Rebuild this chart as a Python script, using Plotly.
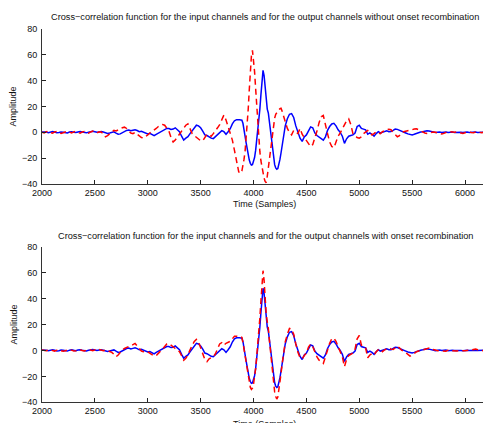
import plotly.graph_objects as go

# Sample index grid (Time in samples): coarse outside, finer around the main lobe
T = list(range(2000, 3860, 20)) + list(range(3860, 4300, 10)) + list(range(4300, 6181, 20))

# Input-channel cross-correlation (blue, identical in both panels)
blue = [
    0.3, 0.5, 0.2, -0.3, 0.1, 0.6, 0.2, -0.4, -0.2, 0.3,
    0.1, -0.3, -0.5, 0.2, 0.5, 0.1, -0.2, 0.3, 0.6, 0.2,
    -0.2, -0.4, 0.1, 0.5, 0.8, 0.4, 0.0, 0.3, 0.6, 0.2,
    -0.3, -0.8, -0.5, 0.2, 0.4, -0.6, -1.5, -1.2, -0.2, 0.8,
    1.5, 1.8, 1.2, 1.6, 2.0, 1.4, 0.5, 0.8, 0.2, -0.6,
    -1.2, -0.8, -2.0, -2.6, -1.5, -0.5, 0.4, 1.0, 2.0, 3.0,
    3.0, 2.2, 2.5, 3.5, 2.0, 0.5, -3.0, -6.0, -4.5, -3.4,
    -1.0, 1.0, 3.5, 5.5, 5.0, 3.5, 1.0, -2.0, -2.5, -3.8,
    -4.5, -4.9, -3.5, -1.5, 0.0, 1.3, 0.5, -1.5, 0.5, 2.8,
    6.5, 9.0, 9.8,
    # dense 3860..4290
    10.0, 9.8, 9.6, 9.4, 7.0, 3.0, -3.0, -8.0, -13.0, -17.5,
    -21.5, -24.0, -25.3, -25.0, -23.0, -19.5, -14.0, -7.0, 0.0, 8.0,
    18.0, 29.0, 39.0, 48.0, 44.0, 34.0, 22.0, 18.0, 15.0, 8.0,
    2.0, -7.0, -15.5, -21.0, -25.0, -27.5, -28.6, -28.0, -25.0, -21.0,
    -16.0, -10.0, -4.0, 1.0,
    # 4300..6180
    5.0, 10.5, 14.0, 14.5, 11.5, 5.0, 0.0, -4.6, -7.0, -3.5,
    -2.0, 1.5, 4.2, 3.5, -0.5, -2.5, -3.8, -5.0, -6.0, -3.5,
    1.5, 4.5, 6.5, 7.0, 5.0, 2.0, 0.0, -3.0, -8.5, -5.0,
    -3.0, -2.5, -2.0, -0.5, 4.5, 5.5, 3.0, 2.5, 2.0, -1.5,
    -0.5, -1.5, -3.0, -1.0, 0.5, -0.5, 0.2, 1.0, 1.2, 0.5,
    0.6, 1.5, 2.5, 2.3, 1.5, 0.5, 0.0, -0.5, -1.2, -1.8,
    -2.0, -1.5, -0.8, -0.3, 0.2, 0.5, 0.9, 1.2, 1.0, 0.4,
    0.2, -0.2, 0.1, 0.3, -0.1, 0.0, 0.3, -0.2, 0.1, 0.2,
    -0.1, 0.1, 0.3, 0.0, -0.2, 0.1, 0.2, -0.1, 0.1, 0.0,
    0.2, -0.1, 0.1, 0.0, 0.1,
]

# Output channels without onset recombination (red dashed, top panel)
red_without = [
    0.2, -0.5, 0.4, 0.8, -0.3, -0.6, 0.3, 0.7, -0.2, -0.8,
    -0.3, 0.5, 0.9, 0.2, -0.5, 0.3, 0.8, 0.1, -0.6, 0.2,
    0.6, -0.2, -0.7, 0.3, 1.0, 0.2, -0.5, 0.4, 0.2, -1.0,
    -3.5, -2.5, -1.0, 0.5, 1.5, 1.0, 2.0, 2.8, 3.5, 4.0,
    3.0, 1.0, -0.5, -1.0, 0.0, -1.5, -3.0, -4.0, -4.5, -3.5,
    -2.0, -0.5, 0.5, 1.5, 3.0, 4.5, 5.0, 6.0, 5.5, 3.5,
    1.0, -4.0, -7.5, -6.0, -3.5, -1.0, 1.5, 3.0, 5.5, 6.5,
    2.0, -1.0, -2.5, -4.0, -5.0, -6.5, -6.5, -3.5, -1.5, -2.0,
    -3.0, -1.0, 1.0, 3.5, 6.0, 10.5, 13.4, 9.5, 4.0, -1.0,
    -6.0, -14.0, -24.0,
    # dense 3860..4290
    -30.5, -31.7, -31.5, -30.0, -26.0, -21.0, -15.0, -6.0, 4.0, 18.0,
    33.0, 48.0, 59.0, 63.5, 57.0, 47.0, 34.0, 20.0, 8.0, -4.0,
    -15.0, -22.0, -27.0, -32.0, -35.5, -38.0, -39.0, -34.0, -27.0, -23.0,
    -17.0, -9.0, -1.5, 5.0, 11.0, 14.0, 15.5, 16.5, 17.5, 18.3,
    18.6, 16.5, 13.5, 10.0,
    # 4300..6180
    7.0, 3.0, 0.0, -2.0, 1.5, 0.5, -1.0, 3.0, -1.5, -4.0,
    -6.5, -9.0, -11.0, -9.5, -5.0, 1.0, 7.5, 12.0, 13.0, 7.0,
    -1.0, -7.5, -11.0, -12.0, -7.5, -3.0, -0.5, 3.0, 6.0, 9.0,
    10.5, 6.0, -1.0, -2.5, -4.0, -4.5, -3.5, -1.0, 0.5, 1.5,
    0.5, -2.0, -1.0, 0.5, -0.5, -1.0, 0.5, 1.5, 2.0, 2.3,
    2.0, 0.0, -1.5, -3.4, -2.5, -0.5, 0.5, 0.8, 1.0, 1.5,
    2.0, 2.6, 2.8, 2.0, 1.0, 0.3, -0.5, -0.8, -0.5, 0.0,
    0.3, 0.0, -0.5, -1.0, -1.3, -0.8, 0.0, 0.6, 0.5, 0.2,
    0.0, 0.3, -0.2, -0.5, -0.8, -0.3, 0.2, 0.3, -0.2, -0.3,
    0.2, 0.4, 0.0, -0.3, 0.2,
]

# Output channels with onset recombination (red dashed, bottom panel)
red_with = [
    0.4, 0.2, -0.3, 0.3, 0.6, 0.0, -0.5, 0.2, 0.5, -0.2,
    -0.6, -0.2, 0.3, 0.8, 0.2, -0.5, -0.3, 0.4, 0.6, -0.1,
    -0.5, 0.2, 0.7, 0.3, -0.2, 0.5, 1.2, 0.8, 0.0, -0.3,
    0.3, 0.1, -0.8, -1.5, -3.0, -4.9, -3.5, -1.0, 0.5, 1.5,
    2.5, 3.0, 3.5, 4.5, 5.4, 3.5, 1.0, -0.5, -1.0, -1.5,
    -1.0, -2.0, -3.5, -4.4, -4.0, -2.0, -0.5, 1.0, 3.0, 5.0,
    5.4, 4.0, 2.5, 1.5, 0.5, -1.0, -4.0, -7.5, -6.0, -3.5,
    0.5, 4.0, 7.0, 8.5, 6.5, 2.0, -3.0, -7.0, -8.7, -6.5,
    -5.5, -5.0, -2.5, 1.0, 5.0, 6.0, 4.0, 5.5, 6.5, 7.0,
    9.0, 11.0, 11.0,
    # dense 3860..4290
    10.5, 10.5, 10.8, 10.0, 6.0, 1.0, -5.0, -11.0, -16.0, -21.0,
    -25.0, -28.5, -30.0, -29.0, -26.0, -21.0, -14.0, -5.0, 4.0, 14.0,
    25.0, 38.0, 52.0, 61.5, 54.0, 40.0, 28.0, 22.0, 17.0, 8.0,
    0.0, -10.0, -20.0, -27.0, -32.0, -35.5, -37.5, -36.0, -31.0, -25.0,
    -18.0, -11.0, -4.5, 1.5,
    # 4300..6180
    6.5, 12.5, 17.0, 16.5, 12.5, 5.0, -1.5, -5.5, -6.5, -4.0,
    -2.0, 2.5, 5.0, 3.0, -1.5, -5.0, -7.5, -8.5, -10.0, -5.0,
    1.0, 5.5, 9.0, 9.5, 7.0, 2.5, -0.5, -5.0, -12.5, -7.0,
    -4.0, -3.0, -2.0, 1.0, 9.0, 11.5, 4.0, 3.5, 2.0, -5.7,
    -3.5, -2.5, -3.5, -1.0, 0.5, 1.0, -1.0, 0.5, 1.5, 2.0,
    1.0, 0.8, 2.0, 3.3, 2.0, 0.2, -0.5, -1.5, -3.0, -4.4,
    -3.5, -2.5, -1.0, -0.5, 0.0, 0.8, 1.2, 1.6, 1.8, 1.0,
    0.8, 0.3, -0.2, -0.3, -0.8, -1.0, -0.6, 0.2, 0.3, -0.3,
    -0.5, -0.4, -0.2, 0.0, -0.3, -0.2, 0.1, 0.4, 0.8, 0.9,
    1.0, 0.5, 0.0, -0.2, 0.0,
]

X_TICKS = [2000, 2500, 3000, 3500, 4000, 4500, 5000, 5500, 6000]
Y_TICKS = [-40, -20, 0, 20, 40, 60, 80]
TITLE_TOP = "Cross\u2212correlation function for the input channels and for the output channels without onset recombination"
TITLE_BOTTOM = "Cross\u2212correlation function for the input channels and for the output channels with onset recombination"
X_LABEL = "Time (Samples)"
Y_LABEL = "Amplitude"

W, H = 483, 423
FONT = "Liberation Sans, Arial, Helvetica, sans-serif"

def py(px):
    return 1 - px / H

fig = go.Figure()
for ax, red in (("", red_without), ("2", red_with)):
    fig.add_trace(go.Scatter(x=T, y=blue, mode="lines", xaxis="x" + ax, yaxis="y" + ax,
                             line=dict(color="#0000ff", width=1.5), showlegend=False))
    fig.add_trace(go.Scatter(x=T, y=red, mode="lines", xaxis="x" + ax, yaxis="y" + ax,
                             line=dict(color="#ff0000", width=1.5, dash="6px,4px"), showlegend=False))

x_common = dict(range=[2000, 6170], tickvals=X_TICKS, ticks="inside", ticklen=4, tickcolor="#222",
                showline=True, linecolor="#333", linewidth=1, showgrid=False, zeroline=False,
                automargin=False, ticklabelstandoff=0,
                tickfont=dict(size=9, color="#111", family=FONT), domain=[42 / W, 1.0])
y_common = dict(range=[-40, 80], tickvals=Y_TICKS, ticks="inside", ticklen=4, tickcolor="#222",
                showline=True, linecolor="#333", linewidth=1, showgrid=False, zeroline=False,
                automargin=False, ticklabelstandoff=2,
                tickfont=dict(size=9, color="#111", family=FONT))

fig.update_layout(
    width=W, height=H, margin=dict(l=0, r=0, t=0, b=0, pad=0, autoexpand=False),
    paper_bgcolor="white", plot_bgcolor="white",
    font=dict(family=FONT, color="#111"),
    xaxis=dict(**x_common, anchor="y"),
    yaxis=dict(**y_common, anchor="x", domain=[py(184), py(29)]),
    xaxis2=dict(**x_common, anchor="y2"),
    yaxis2=dict(**y_common, anchor="x2", domain=[py(402.3), py(246.7)]),
)

ann = [
    (TITLE_TOP, 265 / W, py(17.3), 9.2, 0),
    (TITLE_BOTTOM, 265 / W, py(235.7), 9.2, 0),
    (X_LABEL, 264 / W, py(204), 9, 0),
    (X_LABEL, 264 / W, py(423.5), 9, 0),
    (Y_LABEL, 13 / W, py(106.5), 9, -90),
    (Y_LABEL, 13 / W, py(324.5), 9, -90),
]
for text, x, y, size, ang in ann:
    fig.add_annotation(text=text, x=x, y=y, xref="paper", yref="paper", showarrow=False,
                       xanchor="center", yanchor="middle", textangle=ang,
                       font=dict(size=size, family=FONT, color="#111"))

fig.write_html("out.html", config={"displayModeBar": False},
               post_script="document.body.style.margin='0';document.body.style.overflow='hidden';")
